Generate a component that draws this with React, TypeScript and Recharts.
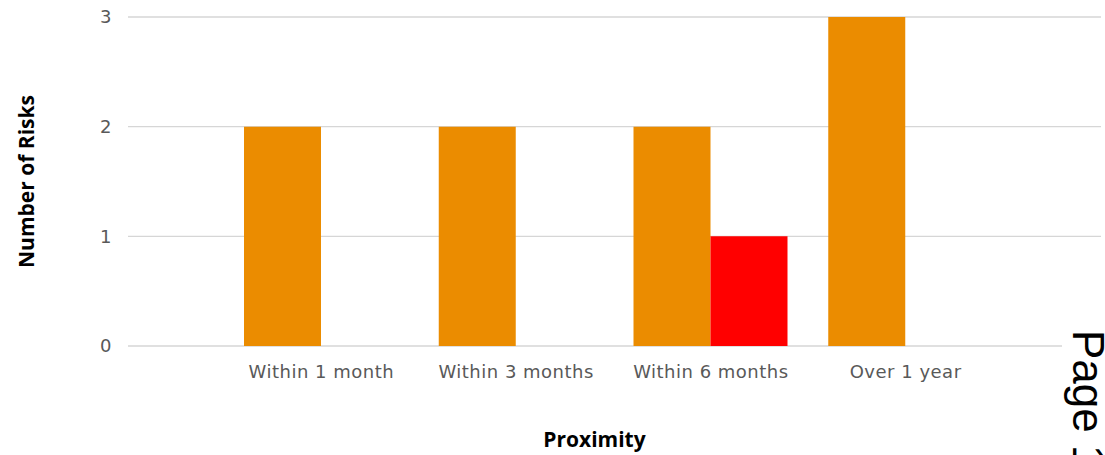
import React from "react";
import { BarChart, Bar, XAxis, YAxis, CartesianGrid, Label } from "recharts";

const categories = ["Within 1 month", "Within 3 months", "Within 6 months", "Over 1 year"];
const amberRisks = [2, 2, 2, 3];
const redRisks = [0, 0, 1, 0];
const yTicks = [0, 1, 2, 3];

const data = categories.map((name, i) => ({ name, amber: amberRisks[i], red: redRisks[i] }));

const tickStyle = { fill: "#595959", fontSize: 18, fontFamily: "DejaVu Sans", letterSpacing: 0.5 };
const titleFont = "'Open Sans', sans-serif";

export default function App() {
  return (
    <div style={{ position: "absolute", left: 0, top: 0, width: 1105, height: 455, background: "#fff", overflow: "hidden" }}>
      <BarChart width={1105} height={455} data={data} barGap={0} margin={{ top: 17, right: 4, left: 0, bottom: 49 }}>
        <CartesianGrid vertical={false} stroke="#d6d6d6" strokeWidth={1.3} />
        <XAxis
          dataKey="name"
          axisLine={false}
          tickLine={false}
          tickSize={0}
          tickMargin={19}
          height={60}
          interval={0}
          padding={{ left: 96, right: 98 }}
          tick={tickStyle}
        >
          <Label
            content={({ viewBox }: any) => (
              <text
                x={viewBox.x + viewBox.width / 2 - 20}
                y={viewBox.y + viewBox.height + 41}
                textAnchor="middle"
                fontFamily={titleFont}
                fontWeight={700}
                fontSize={21}
                fill="#000"
              >
                Proximity
              </text>
            )}
          />
        </XAxis>
        <YAxis
          width={128}
          domain={[0, 3]}
          ticks={yTicks}
          axisLine={false}
          tickLine={false}
          tickSize={0}
          tickMargin={16}
          tick={tickStyle}
        >
          <Label
            content={({ viewBox }: any) => {
              const cx = viewBox.x + 34;
              const cy = viewBox.y + viewBox.height / 2;
              return (
                <text
                  x={cx}
                  y={cy}
                  transform={`rotate(-90, ${cx}, ${cy})`}
                  textAnchor="middle"
                  fontFamily={titleFont}
                  fontWeight={700}
                  fontSize={21}
                  fill="#000"
                >
                  Number of Risks
                </text>
              );
            }}
          />
        </YAxis>
        <Bar dataKey="amber" fill="#EB8C00" barSize={77} isAnimationActive={false} />
        <Bar dataKey="red" fill="#FF0000" barSize={77} isAnimationActive={false} />
      </BarChart>
      <div
        style={{
          position: "absolute",
          left: 1110,
          top: 330,
          transformOrigin: "top left",
          transform: "rotate(90deg)",
          fontFamily: "'Liberation Sans', Arial, sans-serif",
          fontSize: 44,
          lineHeight: "44px",
          paddingBottom: 4,
          background: "#fff",
          whiteSpace: "nowrap",
          color: "#000",
        }}
      >
        Page 1
      </div>
    </div>
  );
}
